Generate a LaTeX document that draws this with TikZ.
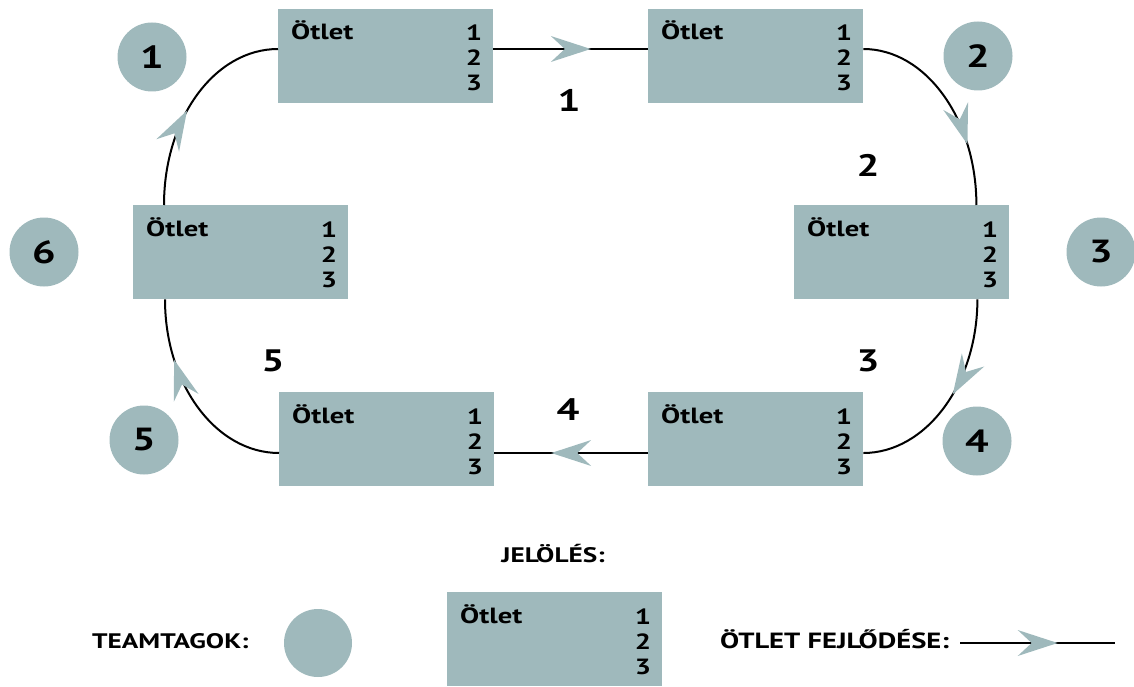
\documentclass[tikz,border=0pt]{standalone}
\usepackage{fontspec}
\setmainfont{PT Sans}[FakeStretch=1.3]
\usetikzlibrary{arrows.meta,decorations.markings}
\definecolor{tealc}{HTML}{9FB9BC}
\tikzset{
  box/.style={rectangle, fill=tealc, minimum width=215pt, minimum height=94pt, inner sep=0pt, anchor=north west},
  otlet/.style={inner sep=0pt, font=\fontsize{22}{24}\selectfont\bfseries},
  digit/.style={inner sep=0pt, font=\fontsize{22}{24}\selectfont\bfseries},
  member/.style={circle, fill=tealc, minimum size=69pt, inner sep=0pt, font=\fontsize{32}{34}\selectfont\bfseries},
  pathnum/.style={inner sep=0pt, font=\fontsize{31}{34}\selectfont\bfseries},
  legendtxt/.style={inner sep=0pt, font=\fontsize{21}{24}\selectfont\bfseries},
  flow/.style={draw=black, line width=2pt, postaction={decorate, decoration={markings,
    mark=at position #1 with {\arrow[tealc]{Stealth[length=40pt,width=26pt,inset=14pt,line width=0pt]}}}}}
}
\newcommand{\ideabox}[3]{%
  \node[box] (#1) at (#2,#3) {};
  \node[otlet, anchor=base west] (#1-t) at ([xshift=13pt,yshift=-31pt]#1.north west) {Ötlet};
  \node[digit, anchor=base east] (#1-a) at ([xshift=-11pt,yshift=-32pt]#1.north east) {1};
  \node[digit, anchor=base east] (#1-b) at ([xshift=-11pt,yshift=-57pt]#1.north east) {2};
  \node[digit, anchor=base east] (#1-c) at ([xshift=-11pt,yshift=-82pt]#1.north east) {3};
}
\begin{document}
\begin{tikzpicture}[x=1pt,y=-1pt]
\useasboundingbox (0,0) rectangle (1134,687);
% boxes
\ideabox{b1}{278}{9}
\ideabox{b2}{648}{9}
\ideabox{b3}{794}{205}
\ideabox{b4}{648}{392}
\ideabox{b5}{279}{392}
\ideabox{b6}{133}{205}
% members
\node[member] (m1) at (152,57) {1};
\node[member] (m2) at (978,56) {2};
\node[member] (m3) at (1101,252) {3};
\node[member] (m4) at (977,441) {4};
\node[member] (m5) at (144,440) {5};
\node[member] (m6) at (44,252) {6};
% connector end points
\coordinate (b1r) at ([yshift=-40pt]b1.north east);
\coordinate (b1l) at ([yshift=-40pt]b1.north west);
\coordinate (b2l) at ([yshift=-40pt]b2.north west);
\coordinate (b2r) at ([yshift=-40pt]b2.north east);
\coordinate (b3t) at ([xshift=-33pt]b3.north east);
\coordinate (b3b) at ([xshift=-32pt]b3.south east);
\coordinate (b4r) at ([yshift=-61pt]b4.north east);
\coordinate (b4l) at ([yshift=-61pt]b4.north west);
\coordinate (b5r) at ([yshift=-61pt]b5.north east);
\coordinate (b5l) at ([yshift=-61pt]b5.north west);
\coordinate (b6b) at ([xshift=32pt]b6.south west);
\coordinate (b6t) at ([xshift=31pt]b6.north west);
% connectors
\draw[flow=0.63] (b1r) -- (b2l);
\draw[flow=0.71] (b2r) .. controls +(62,0) and +(0,-86) .. (b3t);
\draw[flow=0.47] (b3b) .. controls +(0,85) and +(62,0) .. (b4r);
\draw[flow=0.63] (b4l) -- (b5r);
\draw[flow=0.71] (b5l) .. controls +(-63,0) and +(0,85) .. (b6b);
\draw[flow=0.46] (b6t) .. controls +(0,-87) and +(-63,0) .. (b1l);
% path numbers
\node[pathnum] (p1) at (569,100) {1};
\node[pathnum] (p2) at (868,165) {2};
\node[pathnum] (p3) at (868,361) {3};
\node[pathnum] (p4) at (568,410) {4};
\node[pathnum] (p5) at (273,361) {5};
% legend
\node[legendtxt, anchor=base] (jel) at (553,562) {JELÖLÉS:};
\node[legendtxt, anchor=base west] (team) at (92,648) {TEAMTAGOK:};
\node[circle, fill=tealc, minimum size=68pt, inner sep=0pt] (lc) at (318,643) {};
\ideabox{bl}{447}{592}
\node[legendtxt, anchor=base west, font=\fontsize{22}{24}\selectfont\bfseries] (fejl) at (720,648) {ÖTLET FEJLŐDÉSE:};
\coordinate (la) at (960,643);
\coordinate (lb) at (1115,643);
\draw[flow=0.63] (la) -- (lb);
\end{tikzpicture}
\end{document}
